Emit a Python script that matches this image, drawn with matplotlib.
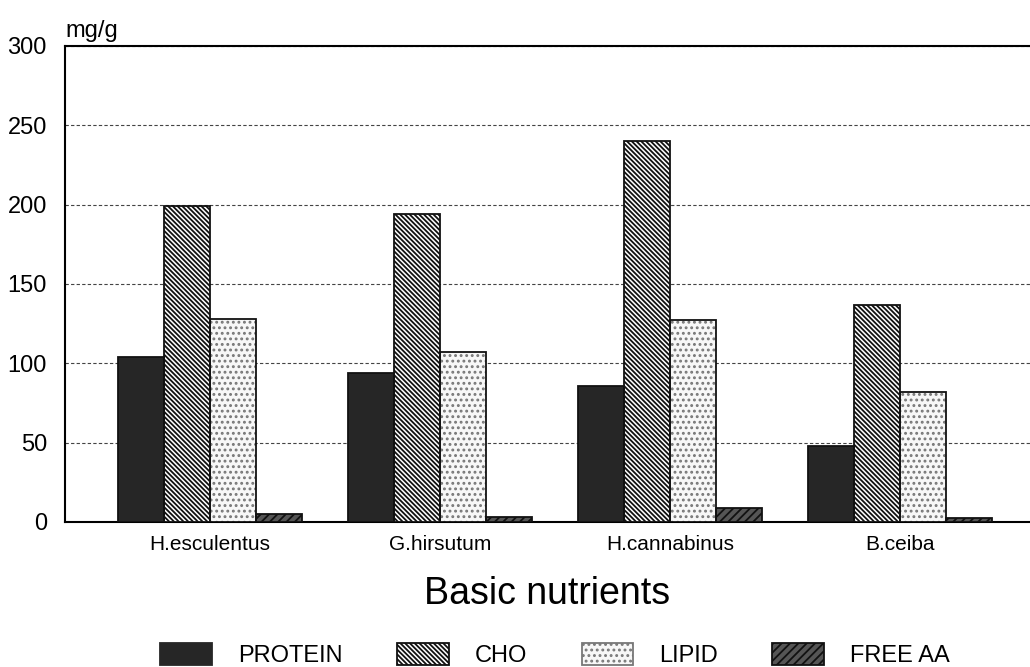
import matplotlib
matplotlib.use('Agg')
import matplotlib.pyplot as plt
from matplotlib.patches import Patch
import numpy as np

species = ['H.esculentus', 'G.hirsutum', 'H.cannabinus', 'B.ceiba']
protein = [104, 94, 86, 48]
cho = [199, 194, 240, 137]
lipid = [128, 107, 127, 82]
free_aa = [5, 3, 9, 2.5]

plt.rcParams['font.family'] = ['Liberation Sans', 'DejaVu Sans']
plt.rcParams['hatch.linewidth'] = 1.3

fig = plt.figure(figsize=(10.3, 6.67), dpi=100)
ax = fig.add_axes([65/1030, 1 - 522/667, 965/1030, (522-46)/667])

x = np.arange(len(species))
w = 0.2
# fill + hatch drawn without outline, then an outline on top
styles = [
    ('PROTEIN', protein, dict(facecolor='#262626', edgecolor='#262626')),
    ('CHO', cho, dict(facecolor='white', edgecolor='#111111', hatch='\\' * 7)),
    ('LIPID', lipid, dict(facecolor='#f7f7f7', edgecolor='#777777', hatch='...')),
    ('FREE AA', free_aa, dict(facecolor='#555555', edgecolor='#111111', hatch='////')),
]
handles = []
for k, (name, vals, st) in enumerate(styles):
    pos = x + (k - 1.5) * w
    ax.bar(pos, vals, w, linewidth=0, zorder=3, **st)
    ax.bar(pos, vals, w, fill=False, edgecolor='#111111', linewidth=1.3, zorder=4)
    handles.append(Patch(linewidth=1.3, label=name, **st))

ax.set_xlim(-0.63, 3.565)
ax.set_ylim(0, 300)
ax.set_yticks(range(0, 301, 50))
ax.set_xticks(x)
ax.set_xticklabels(species, fontsize=15)
ax.tick_params(axis='y', labelsize=17, length=0, pad=13)
ax.tick_params(axis='x', length=0, pad=9)
ax.yaxis.grid(True, color='#444444', linestyle=(0, (3, 2)), linewidth=0.8, zorder=0)
for s in ['left', 'bottom', 'top']:
    ax.spines[s].set_linewidth(1.5)
ax.spines['right'].set_visible(False)
ax.set_xlabel('Basic nutrients', fontsize=27, labelpad=16)
ax.text(0, 1.008, 'mg/g', transform=ax.transAxes, fontsize=17, ha='left', va='bottom')

fig.legend(handles=handles, loc='lower center', bbox_to_anchor=(0.539, -0.032), ncol=4,
           frameon=False, fontsize=17, handlelength=2.2, handleheight=1.0,
           columnspacing=2.3, handletextpad=1.1)

fig.savefig('out.png', dpi=100)
